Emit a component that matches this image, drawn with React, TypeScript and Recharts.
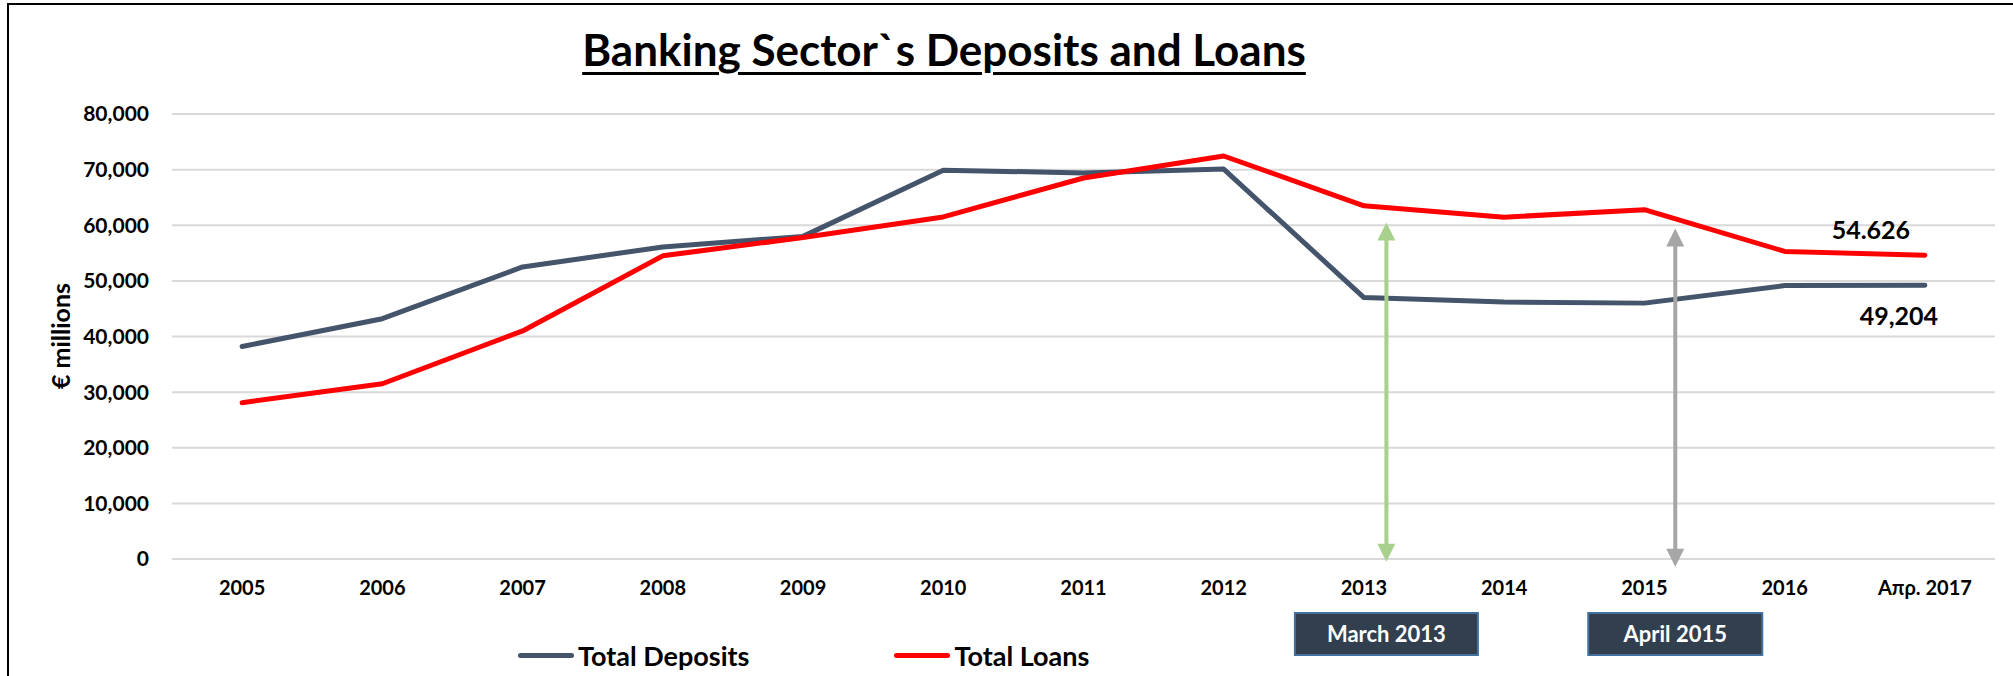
import React from 'react';
import { LineChart, Line, XAxis, YAxis, CartesianGrid, ReferenceLine, LabelList } from 'recharts';

const categories = ['2005', '2006', '2007', '2008', '2009', '2010', '2011', '2012', '2013', '2014', '2015', '2016', 'Απρ. 2017'];
const deposits = [38200, 43200, 52500, 56100, 58000, 69900, 69400, 70100, 47000, 46200, 46000, 49150, 49204];
const loans = [28100, 31500, 41000, 54500, 57800, 61500, 68500, 72450, 63500, 61450, 62800, 55300, 54626];
const yTicks = [0, 10000, 20000, 30000, 40000, 50000, 60000, 70000, 80000];
const lastLabels = { deposits: '49,204', loans: '54.626' };
const events = [
  { label: 'March 2013', pos: 8.16, top: 60500, bottom: -500, color: '#A9D18E', boxW: 183 },
  { label: 'April 2015', pos: 10.22, top: 59400, bottom: -1400, color: '#A6A6A6', boxW: 174 },
];
const seriesNames = ['Total Deposits', 'Total Loans'];
const seriesColors = ['#44546A', '#FF0000'];

const data = categories.map((c, i) => ({ idx: i, cat: c, deposits: deposits[i], loans: loans[i] }));

const FONT = 'Lato, "Open Sans", sans-serif';
const BOX_TOP = 613;
const BOX_H = 42;

const makeArrow = (ev: typeof events[number]) => (props: any) => {
  const { x1, y1, x2, y2 } = props;
  const x = x1;
  const yTop = Math.min(y1, y2);
  const yBot = Math.max(y1, y2);
  const hl = 18;
  const hw = 9;
  return (
    <g>
      <line x1={x} x2={x} y1={yTop + hl - 2} y2={yBot - hl + 2} stroke={ev.color} strokeWidth={4} />
      <polygon points={`${x},${yTop} ${x - hw},${yTop + hl} ${x + hw},${yTop + hl}`} fill={ev.color} />
      <polygon points={`${x},${yBot} ${x - hw},${yBot - hl} ${x + hw},${yBot - hl}`} fill={ev.color} />
      <rect x={x - ev.boxW / 2} y={BOX_TOP} width={ev.boxW} height={BOX_H} fill="#323F4F" stroke="#41719C" strokeWidth={2} />
      <text x={x} y={BOX_TOP + BOX_H / 2 + 8} textAnchor="middle" fill="#FFFFFF" fontFamily={FONT} fontWeight={700} fontSize={22}>
        {ev.label}
      </text>
    </g>
  );
};

const makeLastLabel = (text: string, dx: number, dy: number) => (props: any) => {
  const { x, y, index } = props;
  if (index !== categories.length - 1) return null;
  return (
    <text x={x + dx} y={y + dy} textAnchor="middle" fill="#000" fontFamily={FONT} fontWeight={700} fontSize={25}>
      {text}
    </text>
  );
};

export default function App() {
  return (
    <div style={{ position: 'absolute', left: 0, top: 0, width: 2013, height: 676, overflow: 'hidden', background: '#fff', fontFamily: FONT }}>
      <div style={{ position: 'absolute', left: 7, top: 3, width: 2100, height: 800, border: '2.5px solid #000', boxSizing: 'border-box' }} />
      <div
        style={{
          position: 'absolute', left: 944, top: 26, transform: 'translateX(-50%)', whiteSpace: 'nowrap',
          fontSize: 44, fontWeight: 700, lineHeight: '46px', color: '#000', textDecoration: 'underline',
          textDecorationThickness: '3px', textUnderlineOffset: '6px',
        }}
      >
        Banking Sector`s Deposits and Loans
      </div>
      <div
        style={{
          position: 'absolute', left: 60, top: 336, transform: 'translate(-50%, -50%) rotate(-90deg)', whiteSpace: 'nowrap',
          fontSize: 25, fontWeight: 700, color: '#000', lineHeight: '28px',
        }}
      >
        € millions
      </div>
      <LineChart width={2013} height={676} data={data} margin={{ top: 114, right: 18, bottom: 57, left: 0 }} style={{ position: 'absolute', left: 0, top: 0 }}>
        <CartesianGrid vertical={false} stroke="#D9D9D9" strokeWidth={2} />
        <XAxis
          dataKey="idx"
          type="number"
          domain={[-0.5, 12.5]}
          ticks={categories.map((_, i) => i)}
          tickFormatter={(v: number) => categories[v]}
          interval={0}
          axisLine={false}
          tickLine={false}
          tickSize={0}
          tickMargin={22}
          height={60}
          tick={{ fill: '#000', fontFamily: FONT, fontWeight: 700, fontSize: 20 }}
        />
        <YAxis
          domain={[0, 80000]}
          ticks={yTicks}
          width={172}
          axisLine={false}
          tickLine={false}
          tickSize={0}
          tickMargin={23}
          tickFormatter={(v: number) => v.toLocaleString('en-US')}
          tick={{ fill: '#000', fontFamily: FONT, fontWeight: 700, fontSize: 21 }}
        />
        <Line dataKey="deposits" name={seriesNames[0]} stroke={seriesColors[0]} strokeWidth={5} dot={false} isAnimationActive={false} strokeLinejoin="round" strokeLinecap="round">
          <LabelList dataKey="deposits" content={makeLastLabel(lastLabels.deposits, -26, 40)} />
        </Line>
        <Line dataKey="loans" name={seriesNames[1]} stroke={seriesColors[1]} strokeWidth={5} dot={false} isAnimationActive={false} strokeLinejoin="round" strokeLinecap="round">
          <LabelList dataKey="loans" content={makeLastLabel(lastLabels.loans, -54, -16)} />
        </Line>
        {events.map((ev) => (
          <ReferenceLine
            key={ev.label}
            ifOverflow="visible"
            segment={[{ x: ev.pos, y: ev.bottom }, { x: ev.pos, y: ev.top }]}
            shape={makeArrow(ev)}
          />
        ))}
      </LineChart>
      <div style={{ position: 'absolute', left: 518, top: 639, display: 'flex', alignItems: 'center', height: 32 }}>
        {seriesNames.map((n, i) => (
          <div key={n} style={{ display: 'flex', alignItems: 'center', marginRight: i === 0 ? 145 : 0 }}>
            <div style={{ width: 56, height: 5, borderRadius: 3, background: seriesColors[i], marginRight: 4 }} />
            <span style={{ fontSize: 27, fontWeight: 700, color: '#000' }}>{n}</span>
          </div>
        ))}
      </div>
    </div>
  );
}
